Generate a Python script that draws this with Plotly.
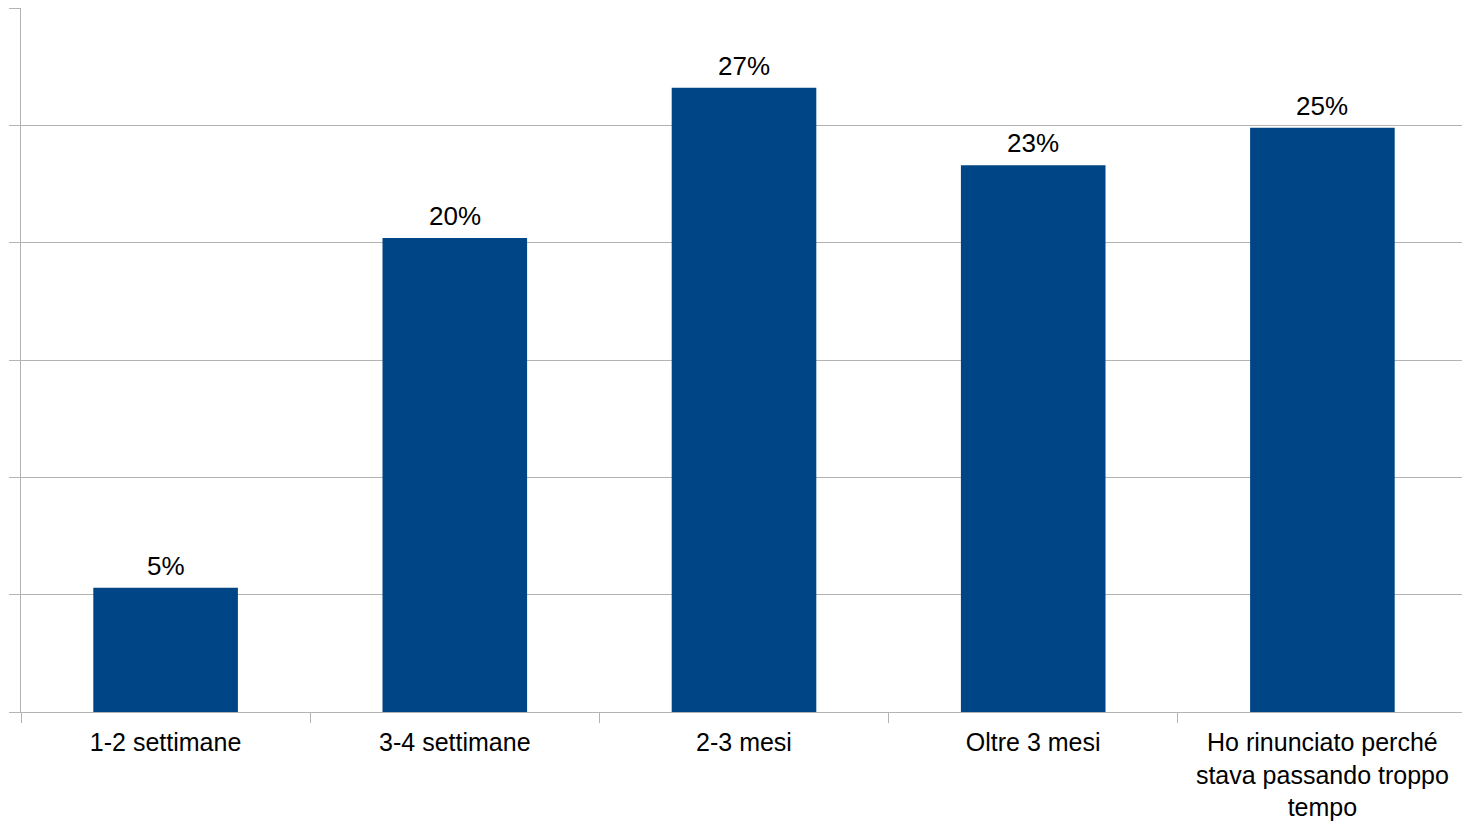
import plotly.graph_objects as go

categories = ["1-2 settimane", "3-4 settimane", "2-3 mesi", "Oltre 3 mesi",
              "Ho rinunciato perché<br>stava passando troppo<br>tempo"]
values = [5.3, 20.2, 26.6, 23.3, 24.9]
labels = [f"{round(v)}%" for v in values]
bar_color = "#004586"
grid_color = "#b3b3b3"

fig = go.Figure(go.Bar(
    x=categories, y=values,
    marker=dict(color=bar_color, line=dict(width=0)),
    width=0.5,
    cliponaxis=False,
))

for c, v, t in zip(categories, values, labels):
    fig.add_annotation(
        x=c, y=v, text=t, showarrow=False,
        xanchor="center", yanchor="bottom", yshift=5,
        font=dict(size=26, color="#000000", family="Liberation Sans"),
    )

fig.update_layout(
    width=1462, height=813,
    margin=dict(l=13, r=3, t=0, b=109, autoexpand=False),
    paper_bgcolor="white", plot_bgcolor="white",
    font=dict(family="Liberation Sans", size=25, color="#000000"),
    showlegend=False,
    bargap=0.5,
)
fig.update_xaxes(
    showline=True, linecolor=grid_color, linewidth=1,
    ticks="outside", ticklen=10, tickcolor=grid_color, tickson="boundaries",
    tickfont=dict(size=25, color="#000000"),
    ticklabelstandoff=8,
    showgrid=False, automargin=False,
)
fig.update_yaxes(
    range=[0, 30], dtick=5, showticklabels=False,
    showgrid=True, gridcolor=grid_color, gridwidth=1,
    showline=True, linecolor=grid_color, linewidth=1, mirror=True,
    ticks="outside", ticklen=11, tickcolor=grid_color,
    zeroline=False, automargin=False,
)

fig.write_html("out.html")
